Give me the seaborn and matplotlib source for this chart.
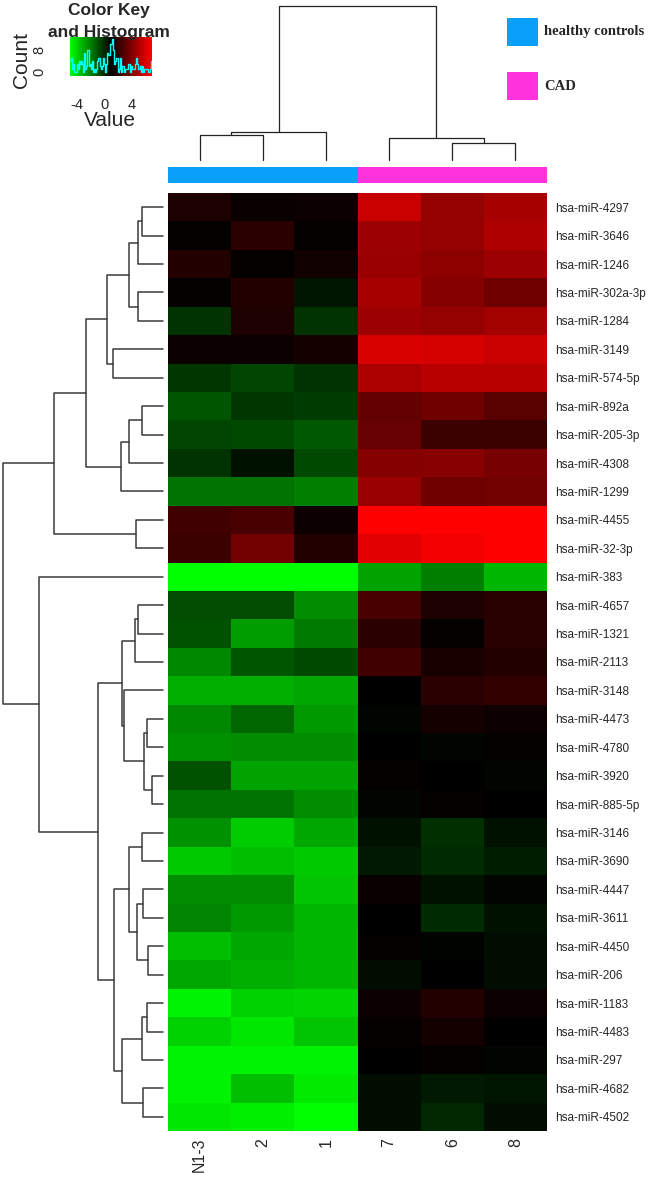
import numpy as np
import pandas as pd
import matplotlib
matplotlib.use("Agg")
import matplotlib.pyplot as plt
import seaborn as sns
from matplotlib.colors import LinearSegmentedColormap, ListedColormap
from matplotlib.patches import Rectangle

# ---- data ----
mirnas = ["hsa-miR-4297", "hsa-miR-3646", "hsa-miR-1246", "hsa-miR-302a-3p", "hsa-miR-1284",
          "hsa-miR-3149", "hsa-miR-574-5p", "hsa-miR-892a", "hsa-miR-205-3p", "hsa-miR-4308",
          "hsa-miR-1299", "hsa-miR-4455", "hsa-miR-32-3p", "hsa-miR-383", "hsa-miR-4657",
          "hsa-miR-1321", "hsa-miR-2113", "hsa-miR-3148", "hsa-miR-4473", "hsa-miR-4780",
          "hsa-miR-3920", "hsa-miR-885-5p", "hsa-miR-3146", "hsa-miR-3690", "hsa-miR-4447",
          "hsa-miR-3611", "hsa-miR-4450", "hsa-miR-206", "hsa-miR-1183", "hsa-miR-4483",
          "hsa-miR-297", "hsa-miR-4682", "hsa-miR-4502"]
samples = ["N1-3", "2", "1", "7", "6", "8"]
sample_group = [0, 0, 0, 1, 1, 1]
group_names = ["healthy controls", "CAD"]
group_colors = ["#0AA0FA", "#FF33DD"]

n1_3 = [1.7, 1.1, 1.8, 1.1, -0.2, 1.3, -0.3, -1.0, -0.6, -0.2, -1.7, 2.5, 2.4, -5.0, -0.8, -0.9, -2.2,
        -3.1, -2.2, -2.4, -0.9, -1.7, -2.4, -3.7, -2.3, -2.1, -3.5, -2.9, -4.7, -3.9, -4.7, -4.7, -4.4]
s2 = [1.2, 2.0, 1.1, 1.8, 1.7, 1.3, -0.6, -0.3, -0.7, 0.6, -1.7, 2.7, 3.7, -5.0, -0.8, -2.7, -1.0,
      -3.1, -1.4, -2.3, -2.8, -1.7, -3.8, -3.5, -2.3, -2.6, -2.9, -3.1, -3.9, -4.4, -4.7, -3.5, -4.6]
s1 = [1.3, 1.1, 1.4, 0.5, -0.2, 1.5, -0.2, -0.4, -1.1, -0.7, -2.0, 1.3, 1.8, -5.0, -2.3, -1.9, -0.7,
      -2.9, -2.6, -2.3, -2.8, -2.3, -2.9, -3.7, -3.6, -3.3, -3.3, -3.3, -4.0, -3.6, -4.7, -4.5, -5.0]
s7 = [5.7, 4.7, 4.6, 4.9, 4.7, 6.1, 5.0, 3.3, 3.4, 4.1, 4.6, 7.0, 6.3, -2.8, 2.7, 2.0, 2.5,
      1.0, 0.9, 1.0, 1.1, 0.9, 0.6, 0.4, 1.2, 1.0, 1.05, 0.7, 1.3, 1.1, 1.0, 0.7, 0.7]
s6 = [4.5, 4.5, 4.3, 4.1, 4.5, 6.0, 5.3, 3.6, 2.4, 4.2, 3.6, 7.0, 6.7, -2.0, 1.7, 1.1, 1.6,
      2.0, 1.5, 0.9, 1.0, 1.1, -0.1, 0.0, 0.6, 0.0, 0.95, 1.0, 1.8, 1.5, 1.1, 0.4, 0.1]
s8 = [4.9, 5.1, 4.7, 3.6, 4.8, 5.7, 5.3, 3.1, 2.4, 3.8, 3.7, 7.0, 7.0, -3.3, 1.9, 1.9, 1.8,
      2.2, 1.3, 1.1, 0.9, 1.0, 0.6, 0.3, 0.9, 0.6, 0.7, 0.7, 1.3, 1.0, 0.9, 0.5, 0.7]

# dendrograms as merges (left id, right id, height); ids >= n are earlier merges
row_merges = [(0, 1, 21), (33, 2, 25), (3, 4, 25), (34, 35, 34), (5, 6, 50), (36, 37, 56),
              (7, 8, 21), (39, 9, 34), (40, 10, 42), (38, 41, 77), (11, 12, 27), (42, 43, 109),
              (14, 15, 25), (45, 16, 28), (18, 19, 16), (20, 21, 11), (47, 48, 19), (17, 49, 39),
              (46, 50, 41), (22, 23, 21), (24, 25, 20), (26, 27, 15), (53, 54, 26), (52, 55, 34),
              (28, 29, 16), (57, 30, 21), (31, 32, 20), (58, 59, 41), (56, 60, 49), (51, 61, 65),
              (13, 62, 124), (44, 63, 160)]
col_merges = [(0, 1, 25), (6, 2, 28), (4, 5, 17), (3, 8, 22), (7, 9, 154)]

vmin, vmax = -5, 7

sns.set_style("white")
plt.rcParams["font.family"] = ["Liberation Sans", "DejaVu Sans"]

W, H = 669, 1177
fig = plt.figure(figsize=(W / 100, H / 100), dpi=100)


def box(x0, y0, x1, y1):
    # pixel box -> figure axes
    return fig.add_axes([x0 / W, 1 - y1 / H, (x1 - x0) / W, (y1 - y0) / H])


def draw_dendro(ax, merges, n, horizontal=False, **kw):
    pos = {i: i + 0.5 for i in range(n)}
    hgt = {i: 0.0 for i in range(n)}
    for k, (a, b, h) in enumerate(merges):
        xs = [pos[a], pos[a], pos[b], pos[b]]
        ys = [hgt[a], h, h, hgt[b]]
        if horizontal:
            ax.plot(ys, xs, clip_on=False, **kw)
        else:
            ax.plot(xs, ys, clip_on=False, **kw)
        pos[n + k] = (pos[a] + pos[b]) / 2
        hgt[n + k] = h
    ax.set_axis_off()


cmap = LinearSegmentedColormap.from_list("redgreen", ["#00FF00", "#000000", "#FF0000"])
df = pd.DataFrame({"N1-3": n1_3, "2": s2, "1": s1, "7": s7, "6": s6, "8": s8}, index=mirnas)

# main heatmap
ax_h = box(168, 193, 547, 1131)
sns.heatmap(df, ax=ax_h, cmap=cmap, vmin=vmin, vmax=vmax, cbar=False,
            xticklabels=samples, yticklabels=mirnas)
ax_h.yaxis.tick_right()
ax_h.set_yticklabels(mirnas, rotation=0, fontsize=8.5)
ax_h.set_xticklabels(samples, rotation=90, fontsize=11.5)
ax_h.tick_params(axis="y", length=0, pad=6)
ax_h.tick_params(axis="x", length=0, pad=5)
ax_h.set_xlabel("")
ax_h.set_ylabel("")

# group colour bar
ax_g = box(168, 167, 547, 183)
sns.heatmap([sample_group], ax=ax_g, cmap=ListedColormap(group_colors), cbar=False,
            xticklabels=False, yticklabels=False)

# dendrograms
ax_r = box(3, 193, 163, 1131)
draw_dendro(ax_r, row_merges, len(mirnas), horizontal=True, color="#3a3a3a", lw=1.1)
ax_r.set_xlim(160, 0)
ax_r.set_ylim(len(mirnas), 0)

ax_c = box(168, 6, 547, 160)
draw_dendro(ax_c, col_merges, len(samples), color="#222222", lw=0.9)
ax_c.set_xlim(0, len(samples))
ax_c.set_ylim(0, 154)

# colour key with histogram
ax_k = box(70, 37, 152, 76)
grad = np.linspace(vmin, vmax, 300)[None, :]
ylo, yhi = -1.45, 12.7
ax_k.imshow(grad, cmap=cmap, vmin=vmin, vmax=vmax, extent=(vmin, vmax, ylo, yhi), aspect="auto")
sns.histplot(x=df.values.ravel(), bins=np.linspace(vmin, vmax, 76), element="step",
             fill=False, color="cyan", lw=1, ax=ax_k)
ax_k.set_xlim(vmin, vmax)
ax_k.set_ylim(ylo, yhi)
ax_k.set_xticks([-4, 0, 4])
ax_k.set_xticklabels(["-4", "0", "4"], fontsize=10.5)
ax_k.set_yticks([0, 8])
ax_k.set_yticks([2, 4, 6, 10, 12], minor=True)
ax_k.set_yticklabels(["0", "8"], fontsize=10.5, rotation=90, va="center")
ax_k.tick_params(axis="x", direction="out", length=5, pad=11, color="#333333")
ax_k.tick_params(axis="y", which="both", direction="out", length=5, pad=12, color="#333333")
ax_k.set_xlabel("")
ax_k.set_ylabel("")
for s in ax_k.spines.values():
    s.set_visible(False)

fig.text(109 / W, 1 - 11 / H, "Color Key", ha="center", va="center", fontsize=12.5, fontweight="bold")
fig.text(109 / W, 1 - 32 / H, "and Histogram", ha="center", va="center", fontsize=12.5, fontweight="bold")
fig.text(22 / W, 1 - 60 / H, "Count", ha="center", va="center", fontsize=15, rotation=90)
fig.text(110 / W, 1 - 120 / H, "Value", ha="center", va="center", fontsize=15)

# group legend
for i, (name, col) in enumerate(zip(group_names, group_colors)):
    y0 = 18 + i * 54
    fig.patches.append(Rectangle((507 / W, 1 - (y0 + 28) / H), 31 / W, 28 / H,
                                 transform=fig.transFigure, facecolor=col, edgecolor="none"))
    fig.text(544 / W, 1 - (y0 + 14) / H, name, ha="left", va="center", fontsize=10.5,
             fontweight="bold", family="Liberation Serif")

fig.savefig("out.png", dpi=100)
